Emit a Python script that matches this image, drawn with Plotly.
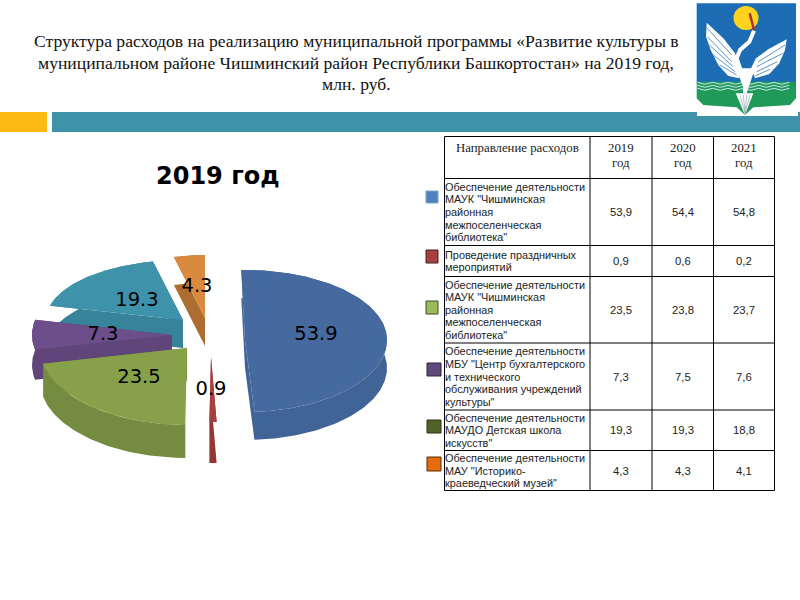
import math
import plotly.graph_objects as go

# ---------- data ----------
header = ["Направление расходов", "2019<br>год", "2020<br>год", "2021<br>год"]
categories = [
    'Обеспечение деятельности<br>МАУК "Чишминская<br>районная<br>межпоселенческая<br>библиотека"',
    'Проведение праздничных<br>мероприятий',
    'Обеспечение деятельности<br>МАУК "Чишминская<br>районная<br>межпоселенческая<br>библиотека"',
    'Обеспечение деятельности<br>МБУ "Центр бухгалтерского<br>и технического<br>обслуживания учреждений<br>культуры"',
    'Обеспечение деятельности<br>МАУДО Детская школа<br>искусств"',
    'Обеспечение деятельности<br>МАУ "Историко-<br>краеведческий музей"',
]
v2019 = [53.9, 0.9, 23.5, 7.3, 19.3, 4.3]
v2020 = [54.4, 0.6, 23.8, 7.5, 19.3, 4.3]
v2021 = [54.8, 0.2, 23.7, 7.6, 18.8, 4.1]
title_lines = [
    "Структура расходов на реализацию муниципальной программы «Развитие культуры в",
    "муниципальном районе Чишминский район Республики Башкортостан» на 2019 год,",
    "млн. руб.",
]
pie_title = "2019 год"

# ---------- styling / layout ----------
top_cols = ["#46699F", "#A5403E", "#86A14A", "#6B4E8A", "#3E93AA", "#D98A3E"]
side_cols = ["#3F6495", "#943634", "#748C40", "#5F4579", "#378399", "#AD6D30"]
legend_fill = ["#4F81BD", "#A5403E", "#9BBB59", "#604A7B", "#4F6228", "#E46C0A"]
legend_line = ["#7FA5D0", "#40201F", "#3E4A24", "#2E2340", "#2A3415", "#5A2C05"]
# apex x, apex y, rx, ry back, ry front, depth, rotation
geom = [
    (245, 340, 142, 70, 72, 28, -1.5),
    (211, 357, 140, 65, 65, 41, 0),
    (187, 348, 147, 72, 77, 33, 0),
    (172, 335, 140, 72, 72, 30, 0),
    (183, 320, 137, 60, 72, 28, 1.5),
    (205, 318, 127, 63, 63, 28, 0),
]
label_pos = [(316, 335), (211, 390), (139, 378), (103, 335), (137, 301), (197, 287)]
draw_order = [5, 4, 3, 2, 1, 0]
col_x = [444.5, 590, 652, 713.5, 774.5]
row_y = [136.5, 178.5, 245.5, 276.5, 343, 410, 450.5, 490.5]
swatches = [(426, 191, 438, 203), (426, 250, 438, 263), (426, 301, 438, 314),
            (427, 363, 441, 376), (427, 420, 441, 433), (427, 457, 441, 471)]

fig = go.Figure()

# ---------- pie, built from the values ----------
total = sum(v2019)
spans = []
a = 0.0
for v in v2019:
    spans.append((a, a + v / total * 360))
    a += v / total * 360


def pt(theta, g, dy=0):
    cx, cy, rx, ryb, ryf = g[:5]
    s, c = math.sin(math.radians(theta)), math.cos(math.radians(theta))
    return cx + rx * s, cy - c * (ryb if c > 0 else ryf) + dy


for i in draw_order:
    g = geom[i]
    a0, a1 = spans[i][0] + g[6], spans[i][1] + g[6]
    n = max(4, int(a1 - a0))
    ths = [a0 + (a1 - a0) * k / n for k in range(n + 1)]
    top = [pt(t, g) for t in ths]
    d = g[5]
    apex = (g[0], g[1])
    sx, sy = [], []
    # the extruded sides: two cut faces, outer wall
    for p in (top[0], top[-1]):
        poly = [apex, p, (p[0], p[1] + d), (apex[0], apex[1] + d), apex]
        sx += [q[0] for q in poly] + [None]
        sy += [q[1] for q in poly] + [None]
    wall = top + [(q[0], q[1] + d) for q in reversed(top)] + [top[0]]
    sx += [q[0] for q in wall]
    sy += [q[1] for q in wall]
    fig.add_trace(go.Scatter(x=sx, y=sy, mode="lines", fill="toself", fillcolor=side_cols[i],
                             line=dict(width=0), hoverinfo="skip", showlegend=False))
    face = [apex] + top + [apex]
    fig.add_trace(go.Scatter(x=[q[0] for q in face], y=[q[1] for q in face], mode="lines",
                             fill="toself", fillcolor=top_cols[i], line=dict(width=0),
                             hoverinfo="skip", showlegend=False))

fig.add_trace(go.Scatter(x=[p[0] for p in label_pos], y=[p[1] for p in label_pos], mode="text",
                         text=[f"{v:.1f}" for v in v2019], textposition="middle center",
                         textfont=dict(family="DejaVu Sans", size=19.5, color="black"),
                         hoverinfo="skip", showlegend=False))

# ---------- shapes and text ----------
shapes = []
ann = []


def rect(x0, y0, x1, y1, fill, line=None, w=0):
    shapes.append(dict(type="rect", xref="x", yref="y", x0=x0, y0=y0, x1=x1, y1=y1, fillcolor=fill,
                       line=dict(color=line or fill, width=w)))


def text(x, y, s, size, family, color="black", anchor="center"):
    ann.append(dict(x=x, y=y, xref="x", yref="y", text=s, showarrow=False, xanchor=anchor, yanchor="middle",
                    font=dict(family=family, size=size, color=color)))


rect(0, 112, 47, 132, "#FFB914")
rect(52, 112, 800, 132, "#3E93AA")
for s, y in zip(title_lines, (40.5, 62.5, 84)):
    text(356, y, s, 17.6, "Liberation Serif", "#111111")
text(217.5, 176, f"<b>{pie_title}</b>", 24, "DejaVu Sans", "black")

# table grid
for x in col_x:
    shapes.append(dict(type="line", x0=x, x1=x, y0=row_y[0], y1=row_y[-1], line=dict(color="black", width=1)))
for y in row_y:
    shapes.append(dict(type="line", x0=col_x[0], x1=col_x[-1], y0=y, y1=y, line=dict(color="black", width=1)))

# table header
text(517, 148, header[0], 12.8, "Liberation Serif", "#222222")
for j in range(1, 4):
    for k, part in enumerate(header[j].split("<br>")):
        text((col_x[j] + col_x[j + 1]) / 2, 148 + k * 15, part, 12.8, "Liberation Serif", "#222222")

# table body
for r, cat in enumerate(categories):
    mid = (row_y[r + 1] + row_y[r + 2]) / 2
    parts = cat.split("<br>")
    for k, part in enumerate(parts):
        text(443, mid + (k - (len(parts) - 1) / 2) * 12.6, part, 10.9, "Liberation Sans", "#222222", "left")
    for j, vals in enumerate((v2019, v2020, v2021)):
        text((col_x[j + 1] + col_x[j + 2]) / 2, mid, f"{vals[r]:.1f}".replace(".", ","), 11.3,
             "Liberation Sans", "#222222")
    x0, y0, x1, y1 = swatches[r]
    rect(x0, y0, x1, y1, legend_fill[r], legend_line[r], 1)


# ---------- crest ----------
def P(points, fill, line=None, w=0):
    d = "M" + " L".join(f"{690 + a / 3:.1f},{b / 3:.1f}" for a, b in points) + " Z"
    shapes.append(dict(type="path", path=d, fillcolor=fill, line=dict(color=line or fill, width=w)))


def L(points, color, w):
    d = "M" + " L".join(f"{690 + a / 3:.1f},{b / 3:.1f}" for a, b in points)
    shapes.append(dict(type="path", path=d, line=dict(color=color, width=w)))


rect(697, 0, 798, 116, "white")
P([(20, 10), (318, 10), (318, 250), (20, 250)], "#1C6DB4")
P([(20, 245), (318, 245), (318, 295), (300, 315), (190, 322), (165, 345), (140, 322), (40, 315), (20, 295)], "#1F9A58")
for y in (250, 259, 268):
    L([(22 + 23 * k, y + (3 if k % 2 else -3)) for k in range(13)], "#CFE6EE", 1)
shapes.append(dict(type="circle", x0=733.5, x1=758.5, y0=6, y1=30, fillcolor="#FFD21E", line=dict(width=0)))
# wings
P([(50, 68), (48, 110), (62, 150), (85, 195), (115, 228), (148, 235), (150, 200), (135, 160), (100, 115)], "white")
P([(290, 118), (285, 150), (268, 190), (238, 222), (195, 235), (183, 205), (198, 175), (235, 148)], "white")
# neck and body
L([(192, 92), (178, 125), (150, 150), (140, 175), (150, 205), (165, 245), (165, 280)], "white", 4)
P([(138, 205), (195, 205), (180, 250), (170, 280), (155, 250)], "white")
P([(137, 280), (190, 280), (165, 345)], "white")
# feathers
for x0, y0, x1, y1 in [(52, 85, 125, 165), (52, 110, 125, 185), (58, 135, 130, 200), (70, 165, 135, 215),
                       (90, 195, 140, 225), (285, 135, 205, 185), (278, 160, 200, 200), (262, 185, 200, 215),
                       (240, 208, 195, 228)]:
    L([(x0, y0), (x1, y1)], "#5C94C8", 1)
for x in (150, 160, 170, 180):
    L([(x, 285), (165, 340)], "#8FA9B5", 0.7)
L([(179, 40), (192, 90)], "#B03030", 2.5)

fig.update_layout(
    width=800, height=600, margin=dict(l=0, r=0, t=0, b=0), showlegend=False,
    paper_bgcolor="white", plot_bgcolor="white", shapes=shapes, annotations=ann,
    xaxis=dict(range=[0, 800], visible=False, fixedrange=True),
    yaxis=dict(range=[600, 0], visible=False, fixedrange=True),
)
fig.write_html("out.html", config={"displayModeBar": False},
               post_script="document.body.style.margin='0';document.body.style.overflow='hidden';")
